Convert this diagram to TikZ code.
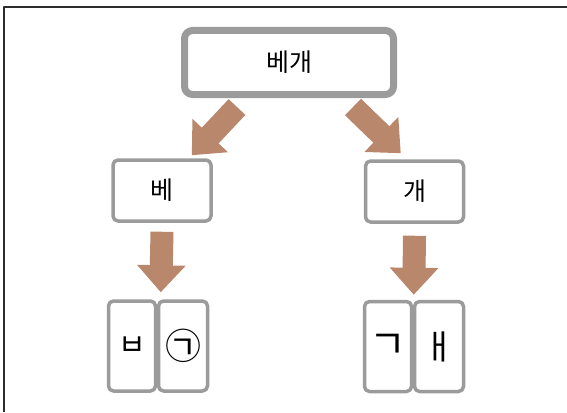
\documentclass[tikz,border=0pt]{standalone}
\usepackage{fontspec}
\usepackage{xcolor}
\usetikzlibrary{arrows.meta,calc}
\newfontfamily\kr{Noto Sans CJK KR}
\definecolor{boxgray}{RGB}{155,155,155}
\definecolor{arrowbrown}{RGB}{185,136,108}
\definecolor{framegray}{RGB}{45,45,45}
\tikzset{
  wordbox/.style={draw=boxgray,line width=3.5pt,rounded corners=5pt,fill=white,
    minimum width=98pt,minimum height=61pt,inner sep=0pt,font=\kr\fontsize{25}{28}\selectfont},
  jamobox/.style={draw=boxgray,line width=3.5pt,rounded corners=5pt,fill=white,
    minimum width=47pt,minimum height=90pt,inner sep=0pt,font=\kr\fontsize{36}{40}\selectfont},
  fatarrow/.style={draw=arrowbrown,line width=23pt,
    -{Triangle[length=27pt,width=47pt,fill=arrowbrown]}}
}
\begin{document}
\begin{tikzpicture}[x=1pt,y=-1pt,line join=round]
\useasboundingbox (0,0) rectangle (567,412);
\draw [framegray,line width=2pt] (3.5,412) -- (3.5,7.5) -- (567,7.5);
\node [wordbox,line width=7pt,rounded corners=8pt,minimum width=209pt,minimum height=64pt] (top) at (289,62.5) {베개};
\node [wordbox] (be) at (162,190.5) {베};
\node [wordbox] (gae) at (414.5,191.5) {개};
\node [jamobox] (bieup) at (132,346) {\fontsize{30}{34}\selectfont ㅂ};
\node [jamobox,minimum width=49pt] (giyeokc) at (183,346) {㉠};
\node [jamobox] (giyeok) at (388,346.5) {\fontsize{40}{44}\selectfont ㄱ};
\node [jamobox,minimum width=49pt] (ae) at (439,346.5) {\fontsize{34}{38}\selectfont ㅐ};
\draw [fatarrow] ($(top.south west)+(56,9)$) -- ($(be.north east)+(-21,-3)$);
\draw [fatarrow] ($(top.south east)+(-44,9)$) -- ($(gae.north west)+(37,-6)$);
\draw [fatarrow] ($(be.south)+(0,9)$) -- ($(bieup.north east)+(3.5,-7)$);
\draw [fatarrow] ($(gae.south)+(0,12)$) -- ($(giyeok.north east)+(0.5,-5)$);
\end{tikzpicture}
\end{document}
